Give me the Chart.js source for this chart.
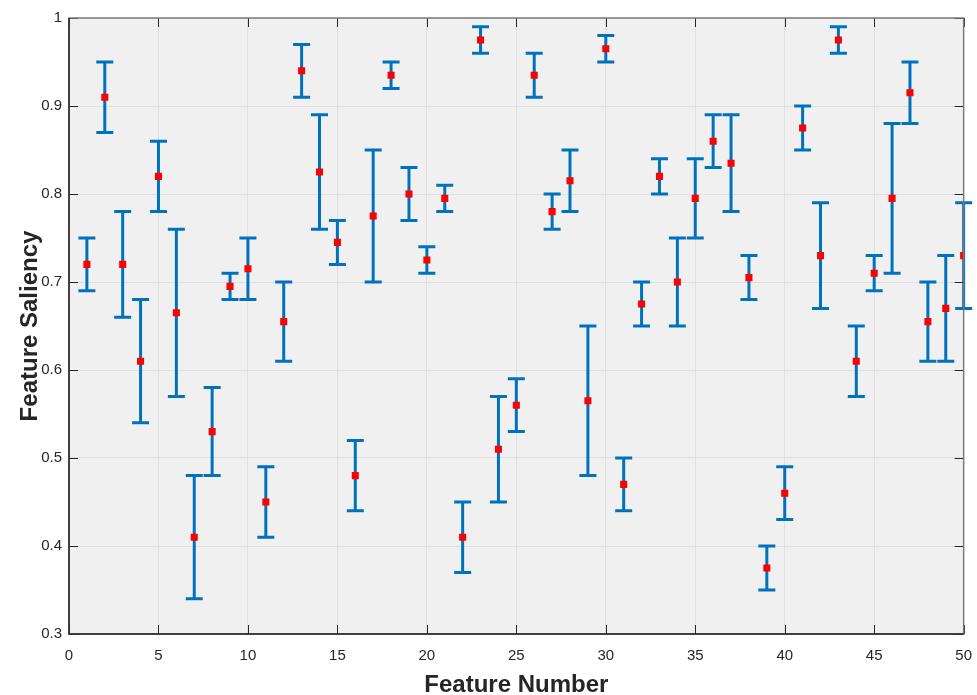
<!DOCTYPE html>
<html>
<head>
<meta charset="utf-8">
<script src="https://cdn.jsdelivr.net/npm/chart.js@4"></script>
<style>
  html, body { margin: 0; padding: 0; background: #fff; }
  #wrap { width: 977px; height: 695px; }
</style>
</head>
<body>
<div id="wrap"><canvas id="saliency"></canvas></div>
<script>
// feature index 1..50
const features = Array.from({ length: 50 }, (_, i) => i + 1)
const saliency = [0.72, 0.91, 0.72, 0.61, 0.82, 0.665, 0.41, 0.53, 0.695, 0.715,
  0.45, 0.655, 0.94, 0.825, 0.745, 0.48, 0.775, 0.935, 0.80, 0.725,
  0.795, 0.41, 0.975, 0.51, 0.56, 0.935, 0.78, 0.815, 0.565, 0.965,
  0.47, 0.675, 0.82, 0.70, 0.795, 0.86, 0.835, 0.705, 0.375, 0.46,
  0.875, 0.73, 0.975, 0.61, 0.71, 0.795, 0.915, 0.655, 0.67, 0.73]
const lower = [0.69, 0.87, 0.66, 0.54, 0.78, 0.57, 0.34, 0.48, 0.68, 0.68,
  0.41, 0.61, 0.91, 0.76, 0.72, 0.44, 0.70, 0.92, 0.77, 0.71,
  0.78, 0.37, 0.96, 0.45, 0.53, 0.91, 0.76, 0.78, 0.48, 0.95,
  0.44, 0.65, 0.80, 0.65, 0.75, 0.83, 0.78, 0.68, 0.35, 0.43,
  0.85, 0.67, 0.96, 0.57, 0.69, 0.71, 0.88, 0.61, 0.61, 0.67]
const upper = [0.75, 0.95, 0.78, 0.68, 0.86, 0.76, 0.48, 0.58, 0.71, 0.75,
  0.49, 0.70, 0.97, 0.89, 0.77, 0.52, 0.85, 0.95, 0.83, 0.74,
  0.81, 0.45, 0.99, 0.57, 0.59, 0.96, 0.80, 0.85, 0.65, 0.98,
  0.50, 0.70, 0.84, 0.75, 0.84, 0.89, 0.89, 0.73, 0.40, 0.49,
  0.90, 0.79, 0.99, 0.65, 0.73, 0.88, 0.95, 0.70, 0.73, 0.79]

const font = "'Liberation Sans', Arial, sans-serif"

const points = features.map((f, i) => ({ x: f, y: saliency[i], lo: lower[i], hi: upper[i] }))

// grey axes background
const plotBg = {
  id: 'plotBg',
  beforeDraw(chart) {
    const { ctx, chartArea: a } = chart
    ctx.save()
    ctx.fillStyle = '#f0f0f0'
    ctx.fillRect(a.left, a.top, a.right - a.left, a.bottom - a.top)
    ctx.restore()
  }
}

// vertical error bars with caps
const errorBars = {
  id: 'errorBars',
  beforeDatasetsDraw(chart) {
    const { ctx, scales: { x, y } } = chart
    ctx.save()
    ctx.strokeStyle = '#0072BD'
    ctx.lineWidth = 3
    for (const p of points) {
      const px = x.getPixelForValue(p.x)
      const pl = y.getPixelForValue(p.lo)
      const ph = y.getPixelForValue(p.hi)
      ctx.beginPath()
      ctx.moveTo(px, pl); ctx.lineTo(px, ph)
      ctx.moveTo(px - 8.5, pl); ctx.lineTo(px + 8.5, pl)
      ctx.moveTo(px - 8.5, ph); ctx.lineTo(px + 8.5, ph)
      ctx.stroke()
    }
    ctx.restore()
  }
}

// matlab style box with inward ticks
const axesBox = {
  id: 'axesBox',
  afterDraw(chart) {
    const { ctx, chartArea: a, scales: { x, y } } = chart
    ctx.save()
    ctx.strokeStyle = '#262626'
    ctx.lineWidth = 1
    ctx.beginPath()
    for (const t of x.ticks) {
      const px = Math.round(x.getPixelForValue(t.value)) + 0.5
      ctx.moveTo(px, a.bottom); ctx.lineTo(px, a.bottom - 9)
      ctx.moveTo(px, a.top); ctx.lineTo(px, a.top + 9)
    }
    for (const t of y.ticks) {
      const py = Math.round(y.getPixelForValue(t.value)) + 0.5
      ctx.moveTo(a.left, py); ctx.lineTo(a.left + 9, py)
      ctx.moveTo(a.right, py); ctx.lineTo(a.right - 9, py)
    }
    ctx.stroke()
    ctx.strokeStyle = '#7a7a7a'
    ctx.lineWidth = 1.5
    ctx.strokeRect(a.left, a.top, a.right - a.left, a.bottom - a.top)
    ctx.strokeStyle = '#262626'
    ctx.beginPath()
    ctx.moveTo(a.left, a.top); ctx.lineTo(a.left, a.bottom); ctx.lineTo(a.right, a.bottom)
    ctx.stroke()
    ctx.restore()
  }
}

const config = {
  type: 'scatter',
  data: {
    datasets: [{
      label: 'Feature Saliency',
      data: points,
      pointStyle: 'rect',
      pointRadius: 5,
      pointHoverRadius: 5,
      backgroundColor: '#ff0000',
      borderColor: '#ff0000',
      borderWidth: 0
    }]
  },
  options: {
    responsive: true,
    maintainAspectRatio: false,
    animation: false,
    layout: { padding: { top: 18, right: 12, left: 0, bottom: 0 } },
    plugins: {
      legend: { display: false },
      tooltip: { enabled: false }
    },
    scales: {
      x: {
        type: 'linear',
        min: 0,
        max: 50,
        afterFit: s => { s.height = 61 },
        ticks: { stepSize: 5, color: '#262626', padding: 5, font: { family: font, size: 15 } },
        grid: { color: '#e0e0e0', drawTicks: true, tickLength: 8, tickColor: 'rgba(0,0,0,0)' },
        border: { display: false },
        title: {
          display: true,
          text: 'Feature Number',
          color: '#262626',
          padding: { top: 8, bottom: -5 },
          font: { family: font, size: 24, weight: 'bold' }
        }
      },
      y: {
        min: 0.3,
        max: 1,
        afterFit: s => { s.width = 69 },
        ticks: {
          stepSize: 0.1,
          color: '#262626',
          padding: 7,
          font: { family: font, size: 15 },
          callback: v => (Math.abs(v - 1) < 1e-9 ? '1' : v.toFixed(1))
        },
        grid: { color: '#e0e0e0', drawTicks: false },
        border: { display: false },
        title: {
          display: true,
          text: 'Feature Saliency',
          color: '#262626',
          padding: { top: 16, bottom: 2 },
          font: { family: font, size: 24, weight: 'bold' }
        }
      }
    }
  },
  plugins: [plotBg, errorBars, axesBox]
}

new Chart(document.getElementById('saliency'), config)
</script>
</body>
</html>
